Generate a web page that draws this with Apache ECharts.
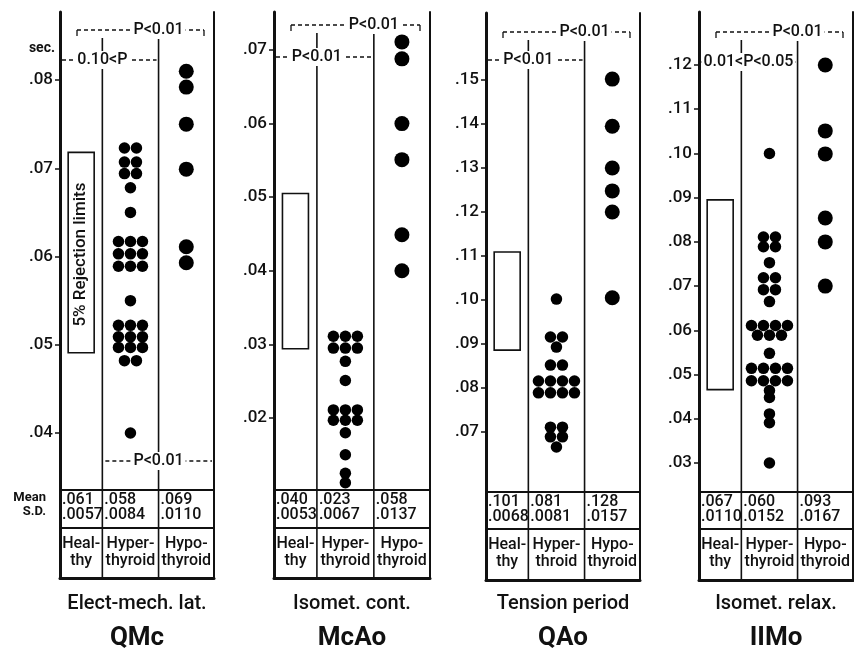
<!DOCTYPE html>
<html><head><meta charset="utf-8">
<script src="https://cdn.jsdelivr.net/npm/echarts@6/dist/echarts.min.js"></script>
<style>html,body{margin:0;padding:0;background:#fff}#c{width:854px;height:650px}</style>
</head><body><div id="c"></div>
<script>
// ================= DATA =================
const panelCodes = ['QMc', 'McAo', 'QAo', 'IIMo'];
const panelTitles = ['Elect-mech. lat.', 'Isomet. cont.', 'Tension period', 'Isomet. relax.'];
const groupLabels = [['Heal-', 'thy'], ['Hyper-', 'thyroid'], ['Hypo-', 'thyroid']];
const groupLabelsQAo = [['Heal-', 'thy'], ['Hyper-', 'throid'], ['Hypo-', 'thyroid']];

const qmcTicks = [0.04, 0.05, 0.06, 0.07, 0.08];
const mcaoTicks = [0.02, 0.03, 0.04, 0.05, 0.06, 0.07];
const qaoTicks = [0.07, 0.08, 0.09, 0.10, 0.11, 0.12, 0.13, 0.14, 0.15];
const iimoTicks = [0.03, 0.04, 0.05, 0.06, 0.07, 0.08, 0.09, 0.10, 0.11, 0.12];

// healthy: 5% rejection limits [low, high]
const qmcHealthy = [0.0491, 0.0718];
const mcaoHealthy = [0.0294, 0.0505];
const qaoHealthy = [0.0886, 0.1109];
const iimoHealthy = [0.0466, 0.0895];

const qmcHyper = [0.0723, 0.0723, 0.0707, 0.0707, 0.0694, 0.0694, 0.0678, 0.0650,
  0.0617, 0.0617, 0.0617, 0.0603, 0.0603, 0.0603, 0.0589, 0.0589, 0.0589, 0.0550,
  0.0522, 0.0522, 0.0522, 0.0509, 0.0509, 0.0509, 0.0497, 0.0497, 0.0497, 0.0482, 0.0482, 0.0400];
const qmcHypo = [0.0810, 0.0792, 0.0750, 0.0699, 0.0611, 0.0593];

const mcaoHyper = [0.0311, 0.0311, 0.0311, 0.0295, 0.0295, 0.0295, 0.0277, 0.0251,
  0.0211, 0.0211, 0.0211, 0.0197, 0.0197, 0.0197, 0.0180, 0.0150, 0.0125, 0.0112];
const mcaoHypo = [0.0711, 0.0688, 0.0600, 0.0551, 0.0449, 0.0400];

const qaoHyper = [0.1002, 0.0916, 0.0916, 0.0893, 0.0852, 0.0852, 0.0816, 0.0816, 0.0816, 0.0816,
  0.0789, 0.0789, 0.0789, 0.0789, 0.0711, 0.0711, 0.0689, 0.0689, 0.0666];
const qaoHypo = [0.1502, 0.1395, 0.1300, 0.1248, 0.1200, 0.1005];

const iimoHyper = [0.1000, 0.0811, 0.0811, 0.0789, 0.0789, 0.0753, 0.0719, 0.0719, 0.0692, 0.0692, 0.0665,
  0.0611, 0.0611, 0.0611, 0.0611, 0.0589, 0.0589, 0.0589, 0.0548, 0.0514, 0.0514, 0.0514, 0.0514,
  0.0486, 0.0486, 0.0486, 0.0486, 0.0464, 0.0448, 0.0411, 0.0391, 0.0300];
const iimoHypo = [0.1200, 0.1051, 0.0999, 0.0854, 0.0800, 0.0700];

const qmcMean = ['.061', '.058', '.069'];
const qmcSD = ['.0057', '.0084', '.0110'];
const mcaoMean = ['.040', '.023', '.058'];
const mcaoSD = ['.0053', '.0067', '.0137'];
const qaoMean = ['.101', '.081', '.128'];
const qaoSD = ['.0068', '.0081', '.0157'];
const iimoMean = ['.067', '.060', '.093'];
const iimoSD = ['.0110', '.0152', '.0167'];

// significance: [healthy vs hyper, healthy vs hypo, hyper vs hypo]
const qmcP = ['0.10<P', 'P<0.01', 'P<0.01'];
const mcaoP = ['P<0.01', 'P<0.01', null];
const qaoP = ['P<0.01', 'P<0.01', null];
const iimoP = ['0.01<P<0.05', 'P<0.01', null];

// ================= LAYOUT =================
const FONT = 'Roboto, "DejaVu Sans", sans-serif';
const INK = '#111';
const colBounds = [0, 0.275, 0.64, 1];
const colCenter = [0, 1, 2].map(i => (colBounds[i] + colBounds[i + 1]) / 2);
const layout = [
  { L: 60, R: 214, T: 12, B: 578, tTop: 490, tMid: 528, bUp: 30, bLow: 60, yMin: 0.023569, yMax: 0.08771 },
  { L: 274, R: 430, T: 12, B: 578, tTop: 490, tMid: 528, bUp: 25, bLow: 57, yMin: -0.001739, yMax: 0.075163 },
  { L: 486, R: 640, T: 13, B: 580, tTop: 492, tMid: 529, bUp: 32, bLow: 60, yMin: 0.036364, yMax: 0.165227 },
  { L: 699, R: 853, T: 12, B: 580, tTop: 492, tMid: 529, bUp: 32, bLow: 62, yMin: 0.003541, yMax: 0.131986 }
];

const panels = [
  { ticks: qmcTicks, healthy: qmcHealthy, hyper: qmcHyper, hypo: qmcHypo, mean: qmcMean, sd: qmcSD, p: qmcP, labels: groupLabels, boxText: '5% Rejection limits' },
  { ticks: mcaoTicks, healthy: mcaoHealthy, hyper: mcaoHyper, hypo: mcaoHypo, mean: mcaoMean, sd: mcaoSD, p: mcaoP, labels: groupLabels },
  { ticks: qaoTicks, healthy: qaoHealthy, hyper: qaoHyper, hypo: qaoHypo, mean: qaoMean, sd: qaoSD, p: qaoP, labels: groupLabelsQAo },
  { ticks: iimoTicks, healthy: iimoHealthy, hyper: iimoHyper, hypo: iimoHypo, mean: iimoMean, sd: iimoSD, p: iimoP, labels: groupLabels }
];

function dotData(values, col, spacing) {
  const rows = new Map();
  values.forEach(v => rows.set(v, (rows.get(v) || 0) + 1));
  const out = [];
  for (const [v, n] of rows) {
    for (let i = 0; i < n; i++) {
      out.push({ value: [colCenter[col], v], symbolOffset: [(i - (n - 1) / 2) * spacing, 0] });
    }
  }
  return out;
}

const fmt = v => v.toFixed(2).replace(/^0\./, '.');

const grid = [], xAxis = [], yAxis = [], series = [], graphic = [];

function txt(x, y, text, o) {
  return Object.assign({ type: 'text', x, y, z: 20, style: Object.assign({ text, fill: INK, font: '500 16px ' + FONT, align: 'center', verticalAlign: 'middle' }, o || {}) });
}
function line(x1, y1, x2, y2, w, dash, z) {
  return { type: 'line', z: z || 5, shape: { x1, y1, x2, y2 }, style: { stroke: INK, lineWidth: w, lineDash: dash || null } };
}
function bracket(x1, x2, y, text, tx, ticks) {
  const els = [line(x1, y, x2, y, 1.3, [4, 3], 6)];
  if (ticks) { els.push(line(x1, y, x1, y + 6, 1.3)); els.push(line(x2, y, x2, y + 6, 1.3)); }
  els.push(txt(tx, y, text, { font: '500 16px ' + FONT, backgroundColor: '#fff', padding: [1, 2] }));
  return els;
}

panels.forEach((p, i) => {
  const g = layout[i];
  const W = g.R - g.L;
  const colX = colBounds.map(f => g.L + f * W);
  grid.push({ left: g.L, top: g.T, width: W, height: g.B - g.T });
  xAxis.push({
    type: 'value', gridIndex: i, min: 0, max: 1,
    axisLine: { show: true, onZero: false, lineStyle: { color: INK, width: 3 } },
    axisTick: { show: false }, axisLabel: { show: false }, splitLine: { show: false }
  });
  yAxis.push({
    type: 'value', gridIndex: i, min: g.yMin, max: g.yMax,
    axisLine: { show: true, onZero: false, lineStyle: { color: INK, width: 3 } },
    axisTick: { show: true, length: 5, customValues: p.ticks, lineStyle: { color: INK, width: 1.5 } },
    axisLabel: { show: true, customValues: p.ticks, formatter: fmt, margin: 7, color: INK, fontSize: 17, fontWeight: 500, fontFamily: FONT },
    splitLine: { show: false }
  });
  yAxis.push({
    type: 'value', gridIndex: i, min: g.yMin, max: g.yMax, position: 'right',
    axisLine: { show: true, onZero: false, lineStyle: { color: INK, width: 2 } },
    axisTick: { show: false }, axisLabel: { show: false }, splitLine: { show: false }
  });
  const yi = i * 2;
  series.push({
    type: 'custom', xAxisIndex: i, yAxisIndex: yi, z: 3,
    data: [[colCenter[0], p.healthy[0], p.healthy[1]]],
    renderItem: (params, api) => {
      const hi = api.coord([api.value(0), api.value(2)]);
      const lo = api.coord([api.value(0), api.value(1)]);
      const w = 26;
      const children = [{ type: 'rect', shape: { x: hi[0] - w / 2, y: hi[1], width: w, height: lo[1] - hi[1] },
        style: { fill: '#fff', stroke: INK, lineWidth: 1.6 } }];
      if (p.boxText) {
        children.push({ type: 'text', x: hi[0], y: (hi[1] + lo[1]) / 2 + 2, rotation: Math.PI / 2,
          style: { text: p.boxText, fill: INK, font: '500 17px ' + FONT, align: 'center', verticalAlign: 'middle' } });
      }
      return { type: 'group', children };
    }
  });
  series.push({
    type: 'scatter', xAxisIndex: i, yAxisIndex: yi, symbolSize: 11.5, z: 4,
    itemStyle: { color: '#000', opacity: 1 }, data: dotData(p.hyper, 1, 12), silent: true
  });
  series.push({
    type: 'scatter', xAxisIndex: i, yAxisIndex: yi, symbolSize: 15, z: 4,
    itemStyle: { color: '#000', opacity: 1 }, data: dotData(p.hypo, 2, 0), silent: true
  });

  // column dividers
  graphic.push(line(colX[1], g.bUp + 8, colX[1], g.B, 1.6, null, 4));
  graphic.push(line(colX[2], g.bUp + 8, colX[2], g.B, 1.6, null, 4));
  // table lines
  graphic.push(line(g.L, g.tTop, g.R, g.tTop, 1.8));
  graphic.push(line(g.L, g.tMid, g.R, g.tMid, 1.8));
  // table texts
  for (let c = 0; c < 3; c++) {
    graphic.push(txt(colX[c] + 2, g.tTop + 10, p.mean[c], { align: 'left' }));
    graphic.push(txt(colX[c] + 2, g.tTop + 25, p.sd[c], { align: 'left' }));
    const cx = (colX[c] + colX[c + 1]) / 2;
    graphic.push(txt(cx, g.tMid + 16, p.labels[c][0]));
    graphic.push(txt(cx, g.tMid + 33, p.labels[c][1]));
  }
  // brackets
  graphic.push(...bracket(g.L + 17, g.R - 10, g.bUp, p.p[1], colX[2], true));
  graphic.push(...bracket(g.L + 2, colX[2] - 2, g.bLow, p.p[0], colX[1] + (p.p[0].length > 8 ? 7 : 0), false));
  if (p.p[2]) graphic.push(...bracket(colX[1] + 3, g.R - 2, g.tTop - 29, p.p[2], colX[2], false));
  // titles
  const pc = (g.L + g.R) / 2;
  graphic.push(txt(pc, 604, panelTitles[i], { font: '500 20px ' + FONT }));
  graphic.push(txt(pc, 638, panelCodes[i], { font: 'bold 26px ' + FONT }));
});

// left labels
graphic.push(txt(55, 48, 'sec.', { align: 'right', font: 'bold 14px ' + FONT }));
graphic.push(txt(46, 498, 'Mean', { align: 'right', font: 'bold 13px ' + FONT }));
graphic.push(txt(46, 512, 'S.D.', { align: 'right', font: 'bold 13px ' + FONT }));

const chart = echarts.init(document.getElementById('c'), null, { renderer: 'canvas' });
chart.setOption({
  animation: false,
  backgroundColor: '#fff',
  textStyle: { fontFamily: FONT },
  grid, xAxis, yAxis, series, graphic
});
</script>
</body></html>
